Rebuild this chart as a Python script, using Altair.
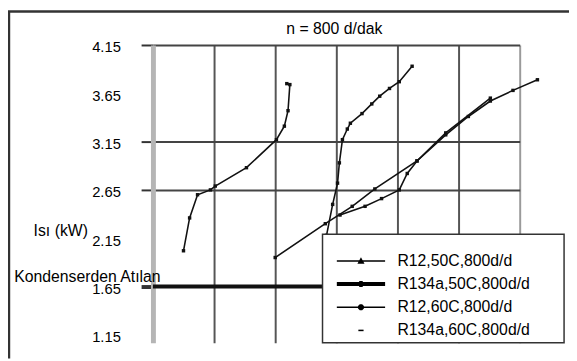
import altair as alt
import pandas as pd

series_names = ["R12,50C,800d/d", "R134a,50C,800d/d", "R12,60C,800d/d", "R134a,60C,800d/d"]

# curve A (left, steep S)
a_x = [0.50, 0.60, 0.73, 0.94, 1.02, 1.53, 2.02, 2.15, 2.21, 2.24, 2.19]
a_y = [2.02, 2.36, 2.60, 2.65, 2.69, 2.88, 3.17, 3.31, 3.47, 3.74, 3.75]
# curve B (middle, steep then bending)
b_x = [2.84, 2.94, 3.02, 3.05, 3.10, 3.18, 3.23, 3.42, 3.58, 3.71, 3.87, 4.03, 4.24]
b_y = [2.18, 2.50, 2.72, 2.93, 3.17, 3.28, 3.34, 3.44, 3.54, 3.62, 3.70, 3.77, 3.93]
# curve C (long straight one)
c_x = [2.00, 2.82, 3.26, 3.63, 4.32, 4.79, 5.16, 5.52, 5.89, 6.29]
c_y = [1.95, 2.30, 2.48, 2.66, 2.95, 3.22, 3.41, 3.57, 3.68, 3.79]
# curve D (lower, joining C)
d_x = [3.06, 3.47, 3.74, 4.03, 4.16, 4.32, 4.79, 5.52]
d_y = [2.39, 2.48, 2.56, 2.65, 2.82, 2.95, 3.24, 3.60]
# thick horizontal line
h_x = [0.0, 3.0]
h_y = [1.65, 1.65]

curves = [
    ("A", "R12,60C,800d/d", a_x, a_y),
    ("B", "R12,50C,800d/d", b_x, b_y),
    ("C", "R134a,60C,800d/d", c_x, c_y),
    ("D", "R12,60C,800d/d", d_x, d_y),
    ("H", "R134a,50C,800d/d", h_x, h_y),
]
rows = []
for cid, s, xs, ys in curves:
    for i, (xv, yv) in enumerate(zip(xs, ys)):
        rows.append({"curve": cid, "series": s, "x": xv, "y": yv, "order": i})
df = pd.DataFrame(rows)
legend_df = pd.DataFrame({"series": series_names})

y_ticks = [1.15, 1.65, 2.15, 2.65, 3.15, 3.65, 4.15]
y_grid = [2.65, 3.15, 4.15]
y_tickmarks = [1.65, 2.65, 3.15, 4.15]
x_grid = [1, 2, 3, 4, 5, 6]

W, H = 372, 302
FONT = "Liberation Sans"


def test_for(vals):
    return " || ".join(f"abs(datum.value - {v}) < 0.001" for v in vals)


x_scale = alt.Scale(domain=[0, 6], nice=False, zero=False)
y_scale = alt.Scale(domain=[1.068, 4.15], nice=False, zero=False)

x_axis = alt.Axis(
    values=x_grid, grid=True,
    gridColor={"condition": {"test": "datum.value == 6", "value": "#9a9a9a"}, "value": "#555555"},
    gridWidth=2, ticks=False, labels=False, domain=False,
    title="Isı (kW)", titleX=-94, titleY=-114, titleAlign="center",
    titleBaseline="middle", titleFontSize=16, titleFontWeight="normal",
    titleColor="black", titleFont=FONT,
)
y_axis = alt.Axis(
    values=y_ticks, format=".2f", grid=True,
    gridColor={"condition": {"test": test_for(y_grid), "value": "#444444"}, "value": "transparent"},
    gridWidth=2,
    tickSize=12,
    tickColor={"condition": {"test": test_for(y_tickmarks), "value": "#333333"}, "value": "transparent"},
    tickWidth={"condition": {"test": test_for([1.65]), "value": 4}, "value": 2},
    labelPadding=21, labelFontSize=15, labelColor="black", labelFont=FONT,
    labelBaseline="middle", labelOffset=2,
    domainColor="#b5b5b5", domainWidth=5,
    title="Kondenserden Atılan", titleAngle=0, titleX=-67, titleY=235,
    titleAlign="center", titleBaseline="middle", titleFontSize=16,
    titleFontWeight="normal", titleColor="black", titleFont=FONT,
)

base = alt.Chart(df)

thin_lines = base.mark_line(color="#111111", strokeWidth=1.6).encode(
    x=alt.X("x:Q", scale=x_scale, axis=x_axis),
    y=alt.Y("y:Q", scale=y_scale, axis=y_axis),
    detail="curve:N",
    order="order:Q",
).transform_filter("datum.curve != 'H'")

thick_line = base.mark_line(color="#111111", strokeWidth=4).encode(
    x="x:Q", y="y:Q", order="order:Q"
).transform_filter("datum.curve == 'H'")

points = base.mark_square(color="#111111", size=12, opacity=1).encode(
    x="x:Q", y="y:Q"
).transform_filter("datum.curve != 'H'")

frame_df = pd.DataFrame({"k": [0]})
legend_box = alt.Chart(frame_df).mark_rect(fill="white", stroke="#333333", strokeWidth=1.5).encode(
    x=alt.value(172), x2=alt.value(417), y=alt.value(192), y2=alt.value(302)
)

paths = [
    "M-2.04,-0.065H2.04V0.065H-2.04Z M-0.3,0.25L0,-0.3L0.3,0.25Z",
    "M-2.04,-0.17H2.04V0.17H-2.04Z M-0.15,-0.25H0.15V0.25H-0.15Z",
    "M-2.04,-0.065H2.04V0.065H-2.04Z M-0.25,-0.1L-0.1,-0.25L0.1,-0.25L0.25,-0.1L0.25,0.1L0.1,0.25L-0.1,0.25L-0.25,0.1Z",
    "M-0.22,-0.065H0.22V0.065H-0.22Z",
]
legend_layer = alt.Chart(legend_df).mark_point(filled=True, color="black", size=576, opacity=0).encode(
    shape=alt.Shape(
        "series:N",
        scale=alt.Scale(domain=series_names, range=paths),
        legend=alt.Legend(
            title=None, orient="none", legendX=179, legendY=199,
            padding=8, symbolSize=576, symbolOffset=12, labelOffset=25,
            symbolFillColor="black", symbolStrokeWidth=0, symbolStrokeColor="black",
            symbolOpacity=1, labelLimit=400,
            labelFontSize=16, labelFont=FONT, labelColor="black",
            rowPadding=3.5,
        ),
    ),
)

frame_top = alt.Chart(frame_df).mark_rule(color="#333333", strokeWidth=2.5).encode(
    x=alt.value(-147), x2=alt.value(422), y=alt.value(-34)
)
frame_left = alt.Chart(frame_df).mark_rule(color="#333333", strokeWidth=2.5).encode(
    x=alt.value(-146), y=alt.value(-34), y2=alt.value(318)
)

chart = alt.layer(thin_lines, thick_line, points, legend_box, legend_layer, frame_top, frame_left).properties(
    width=W, height=H,
    title=alt.TitleParams("n = 800 d/dak", fontSize=16, font=FONT, fontWeight="normal",
                          color="black", anchor="middle", dx=-2, dy=35, offset=8, frame="group"),
    autosize=alt.AutoSizeParams(type="none"),
    padding={"left": 147, "top": 35, "right": 50, "bottom": 16},
).configure(font=FONT).configure_view(stroke=None)

chart.save("out.html", embed_options={"renderer": "svg", "actions": False})
